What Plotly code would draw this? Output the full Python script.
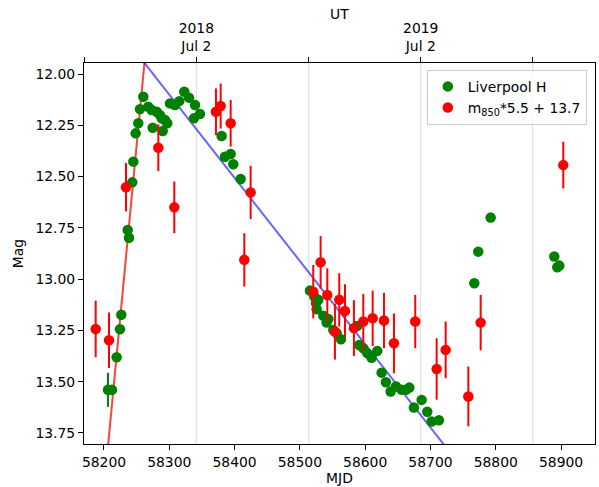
import numpy as np
import plotly.graph_objects as go

# Liverpool H photometry
h_mjd = [58206.1, 58212.3, 58219.4, 58224.5, 58226.5, 58236.3, 58238.3, 58243.3, 58244.9,
         58248.5, 58252.5, 58255.1, 58260.2, 58267.8, 58273.0, 58274.6, 58280.7, 58285.8,
         58288.4, 58289.9, 58293.4, 58296.9, 58301.1, 58308.7, 58315.3, 58323.0, 58330.2,
         58339.4, 58337.8, 58347.0, 58380.2, 58385.3, 58394.0, 58398.0, 58409.3,
         58515.5, 58522.1, 58528.2, 58524.7, 58525.7, 58535.9, 58543.6, 58541.0, 58551.2,
         58556.3, 58562.9, 58588.0, 58591.0, 58597.1, 58603.2, 58609.9, 58618.6, 58625.2,
         58631.8, 58639.0, 58647.2, 58655.9, 58662.5, 58667.6, 58674.7, 58686.5, 58695.1,
         58701.8, 58713.0, 58767.1, 58773.2, 58792.2, 58889.6, 58894.2, 58897.3]
h_mag = [13.540, 13.540, 13.381, 13.244, 13.174, 12.760, 12.798, 12.528, 12.427,
         12.289, 12.240, 12.171, 12.111, 12.159, 12.175, 12.262, 12.184, 12.200,
         12.216, 12.278, 12.224, 12.240, 12.143, 12.151, 12.132, 12.086, 12.115,
         12.151, 12.216, 12.195, 12.302, 12.403, 12.390, 12.440, 12.512,
         13.056, 13.085, 13.101, 13.118, 13.147, 13.179, 13.194, 13.212, 13.248,
         13.264, 13.293, 13.228, 13.321, 13.337, 13.361, 13.383, 13.350, 13.456,
         13.503, 13.548, 13.524, 13.540, 13.540, 13.529, 13.626, 13.589, 13.647,
         13.694, 13.688, 13.020, 12.866, 12.700, 12.890, 12.942, 12.934]
h_err = [0.083] + [0.01] * (len(h_mjd) - 1)

# Scaled 850 micron data
s_mjd = [58187.3, 58207.7, 58233.7, 58283.2, 58307.7, 58371.5, 58378.7, 58394.0, 58414.9,
         58424.6, 58520.5, 58531.8, 58542.0, 58553.7, 58560.3, 58569.1, 58582.8, 58597.1,
         58611.5, 58628.8, 58644.1, 58676.7, 58709.5, 58723.3, 58758.0, 58776.9, 58903.4]
s_mag = [13.243, 13.298, 12.552, 12.359, 12.650, 12.184, 12.156, 12.240, 12.906,
         12.577, 13.061, 12.918, 13.077, 13.256, 13.101, 13.155, 13.239, 13.207,
         13.191, 13.202, 13.313, 13.207, 13.438, 13.345, 13.572, 13.212, 12.444]
s_err = [0.138, 0.135, 0.118, 0.114, 0.126, 0.114, 0.110, 0.114, 0.130,
         0.130, 0.130, 0.128, 0.130, 0.136, 0.130, 0.130, 0.136, 0.135,
         0.135, 0.135, 0.146, 0.130, 0.150, 0.138, 0.146, 0.135, 0.114]

# Linear fits: (reference MJD, mag at reference, slope mag/day)
rise_fit = (58206.6, 13.80, -0.03347)
decline_fit = (58262.0, 11.946, 0.004058)

x_range = [58169.4, 58952.0]
y_range = [13.804, 11.946]

ut_tickvals = [58169.4, 58341.5, 58513.5, 58685.1, 58856.6]
ut_ticktext = [" ", "2018<br>Jul 2", " ", "2019<br>Jul 2", " "]

font = dict(family="DejaVu Sans", size=13.9, color="black")

fig = go.Figure()

def fit_line(p, x0, x1):
    xs = np.array([x0, x1])
    return xs, p[1] + p[2] * (xs - p[0])

xr, yr = fit_line(rise_fit, 58190, 58275)
fig.add_trace(go.Scatter(x=xr, y=yr, mode="lines", line=dict(color="rgba(255,0,0,0.75)", width=2),
                         showlegend=False, hoverinfo="skip"))
xb, yb = fit_line(decline_fit, 58250, 58740)
fig.add_trace(go.Scatter(x=xb, y=yb, mode="lines", line=dict(color="rgba(0,0,255,0.6)", width=2),
                         showlegend=False, hoverinfo="skip"))

fig.add_trace(go.Scatter(x=h_mjd, y=h_mag, mode="markers", name="Liverpool H",
                         marker=dict(color="green", size=10.5),
                         error_y=dict(type="data", array=h_err, color="green", thickness=2, width=0)))
fig.add_trace(go.Scatter(x=s_mjd, y=s_mag, mode="markers", name="m<sub>850</sub>*5.5 + 13.7",
                         marker=dict(color="red", size=10.5),
                         error_y=dict(type="data", array=s_err, color="red", thickness=2, width=0)))

# dummy trace for top axis
fig.add_trace(go.Scatter(x=x_range, y=[None, None], xaxis="x2", mode="markers",
                         showlegend=False, hoverinfo="skip"))

for v in ut_tickvals[1:]:
    fig.add_shape(type="line", xref="x", yref="paper", x0=v, x1=v, y0=0, y1=1,
                  line=dict(color="#dcdcdc", width=1), layer="below")

fig.add_annotation(text="UT", xref="paper", yref="paper", x=0.5, y=1.1286,
                   xanchor="center", yanchor="middle", showarrow=False, font=font)

fig.update_layout(
    width=599, height=487,
    margin=dict(l=84, r=4, t=63, b=43),
    paper_bgcolor="white", plot_bgcolor="white",
    font=font,
    xaxis=dict(range=x_range, showgrid=False, zeroline=False, showline=True, linecolor="black",
               linewidth=1, ticks="outside", ticklen=5, tickcolor="black", automargin=False,
               tickvals=[58200, 58300, 58400, 58500, 58600, 58700, 58800, 58900],
               tickformat="d",
               title=dict(text="MJD", font=font, standoff=4)),
    xaxis2=dict(range=x_range, overlaying="x", side="top", showgrid=False, zeroline=False,
                showline=True, linecolor="black", linewidth=1, ticks="outside", ticklen=5,
                tickcolor="black", tickvals=ut_tickvals, ticktext=ut_ticktext, automargin=False),
    yaxis=dict(range=y_range, showgrid=False, zeroline=False, showline=True, linecolor="black",
               linewidth=1, mirror=True, ticks="outside", ticklen=5, tickcolor="black",
               tickvals=[12.0, 12.25, 12.5, 12.75, 13.0, 13.25, 13.5, 13.75],
               tickformat=".2f", automargin=False,
               title=dict(text="Mag", font=font, standoff=8)),
    legend=dict(x=0.984, y=0.982, xanchor="right", yanchor="top", bgcolor="rgba(255,255,255,0.8)",
                bordercolor="#cccccc", borderwidth=1, font=font, tracegroupgap=0),
    showlegend=True,
)

fig.write_html("out.html", config={"displayModeBar": False},
               post_script="document.body.style.margin='0';document.body.style.overflow='hidden';")
